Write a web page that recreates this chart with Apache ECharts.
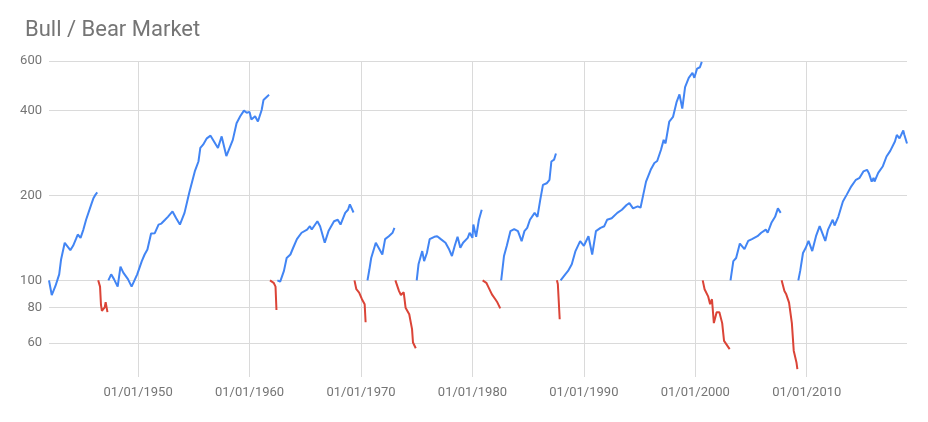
<!DOCTYPE html>
<html>
<head>
<meta charset="utf-8">
<title>Bull / Bear Market</title>
<script src="https://cdn.jsdelivr.net/npm/echarts@6/dist/echarts.min.js"></script>
<style>html,body{margin:0;padding:0;background:#fff}</style>
</head>
<body>
<div id="main" style="width:928px;height:422px"></div>
<script>
// each market phase restarts at 100 (monthly closes, month, value)
var bull1942 = [['1942-01',100],['1942-04',88.7],['1942-08',95.5],['1942-12',105],['1943-02',118.6],['1943-06',135.9],['1943-08',138],['1943-12',128],['1944-03',132.6],['1944-06',140],['1944-08',145.4],['1944-11',141.5],['1945-02',151.4],['1945-05',164],['1945-07',166],['1945-11',188],['1946-01',196],['1946-03',201],['1946-05',205]];
var bear1946 = [['1946-06',100],['1946-08',95],['1946-09',81.8],['1946-10',78],['1947-01',80.2],['1947-02',83.7],['1947-04',77.1]];
var bull1947 = [['1947-05',100],['1947-08',105],['1947-11',101],['1948-03',95],['1948-06',111.8],['1948-09',106.5],['1949-02',101],['1949-06',95],['1949-12',105],['1950-05',117],['1950-08',123.5],['1950-11',128.6],['1951-03',146.5],['1951-07',147],['1951-11',157.7],['1952-02',159],['1952-06',164],['1952-09',168],['1953-02',175.6],['1953-06',166],['1953-10',157.7],['1954-03',173.5],['1954-08',204],['1955-02',243.5],['1955-06',264],['1955-08',295],['1955-11',303],['1956-03',319],['1956-07',326],['1956-12',306],['1957-03',295],['1957-07',324],['1957-12',276],['1958-02',279],['1958-07',315],['1958-11',361],['1959-03',382],['1959-07',400],['1959-10',393],['1960-01',396],['1960-03',372],['1960-07',382],['1960-10',366],['1961-02',402],['1961-04',436],['1961-08',449],['1961-10',455]];
var bear1961 = [['1961-11',100],['1962-03',98],['1962-05',95],['1962-06',78.5]];
var bull1962 = [['1962-07',100],['1962-10',99],['1963-02',108],['1963-05',120],['1963-09',123.5],['1963-12',130.5],['1964-04',140],['1964-09',147.5],['1965-03',151.4],['1965-06',155.6],['1965-08',151.4],['1966-02',162],['1966-05',155.6],['1966-10',136],['1967-02',149.5],['1967-08',162],['1967-12',164],['1968-03',157.7],['1968-08',173.5],['1968-11',178],['1969-01',186],['1969-05',174]];
var bear1969 = [['1969-06',100],['1969-08',93],['1969-11',90.5],['1970-02',85.7],['1970-05',82.3],['1970-06',71]];
var bull1970 = [['1970-08',100],['1970-10',109],['1970-12',120],['1971-05',136],['1971-08',130.5],['1971-12',123.5],['1972-03',140],['1972-07',143.4],['1972-11',147.5],['1973-01',153.5]];
var bear1973 = [['1973-02',100],['1973-06',91.6],['1973-08',88.7],['1973-11',90.7],['1974-01',80],['1974-05',75.8],['1974-08',67.1],['1974-09',60.2],['1974-12',57.4]];
var bull1975 = [['1975-01',100],['1975-03',114],['1975-07',127],['1975-09',117],['1975-12',125],['1976-03',140],['1976-08',142.7],['1976-11',143.4],['1977-03',140],['1977-08',136],['1977-12',128.6],['1978-03',122],['1978-06',132.6],['1978-09',142.7],['1978-12',130.5],['1979-03',136],['1979-08',141.5],['1979-10',147.5],['1980-01',141.5],['1980-02',157.7],['1980-05',142.7],['1980-08',164],['1980-11',178]];
var bear1980 = [['1980-12',100],['1981-04',98],['1981-06',95],['1981-10',89.2],['1982-02',85.3],['1982-04',83.4],['1982-07',79.5]];
var bull1982 = [['1982-08',100],['1982-11',122],['1983-02',132.6],['1983-06',149.5],['1983-10',152],['1984-02',149.5],['1984-06',137.7],['1984-09',149.5],['1984-12',153.5],['1985-03',164],['1985-08',173.5],['1985-11',168],['1986-02',193],['1986-05',218],['1986-09',221],['1986-12',227.4],['1987-02',264],['1987-05',268],['1987-07',282]];
var bear1987 = [['1987-08',100],['1987-09',97],['1987-11',72.8]];
var bull1987 = [['1987-12',100],['1988-05',105],['1988-08',108],['1988-12',114],['1989-04',127],['1989-09',137.7],['1990-01',132.6],['1990-06',143.4],['1990-10',123.5],['1991-02',149.5],['1991-07',153.5],['1991-11',155.6],['1992-02',164],['1992-07',166],['1993-01',173.5],['1993-06',178],['1993-11',185],['1994-02',188],['1994-06',180],['1994-11',183],['1995-02',181],['1995-05',201],['1995-08',224],['1996-01',246.7],['1996-05',260.7],['1996-08',265],['1996-12',290],['1997-03',315],['1997-05',306],['1997-09',366],['1998-01',380],['1998-05',430],['1998-08',457],['1998-11',407],['1999-02',485],['1999-06',523],['1999-10',545],['1999-12',523],['2000-03',564],['2000-06',570],['2000-08',596]];
var bear2000 = [['2000-09',100],['2000-11',93],['2001-03',87.5],['2001-05',82.3],['2001-07',85.7],['2001-09',70.5],['2001-12',77.1],['2002-03',77.1],['2002-06',70.5],['2002-08',61],['2002-10',60.2],['2003-02',57]];
var bull2003 = [['2003-03',100],['2003-06',117],['2003-09',120],['2004-01',135],['2004-06',129],['2004-10',138],['2005-02',140],['2005-08',143.4],['2005-12',147.5],['2006-05',151.4],['2006-07',147.5],['2006-11',160],['2007-03',168],['2007-06',180],['2007-09',173.5]];
var bear2007 = [['2007-10',100],['2008-01',91.6],['2008-03',89.2],['2008-06',83.4],['2008-09',70.5],['2008-11',56.3],['2009-02',51],['2009-03',48.4]];
var bull2009 = [['2009-04',100],['2009-06',108],['2009-09',125],['2009-12',130.5],['2010-03',138],['2010-07',127],['2010-11',143.4],['2011-03',155.6],['2011-05',154],['2011-09',138],['2011-12',151.4],['2012-05',164],['2012-07',156.5],['2012-11',168],['2013-04',190.5],['2013-08',201],['2014-01',215.5],['2014-06',227.4],['2014-10',231],['2015-02',243.5],['2015-06',246.7],['2015-08',240],['2015-11',224],['2016-01',231],['2016-02',224],['2016-06',240.5],['2016-11',254],['2017-03',275],['2017-07',288],['2017-12',311],['2018-02',328],['2018-05',319],['2018-09',340],['2018-10',330],['2019-01',306]];

var yTicks = [60, 80, 100, 200, 400, 600];
var xTickYears = [1950, 1960, 1970, 1980, 1990, 2000, 2010];

var segments = [
    ['bull', bull1942], ['bear', bear1946], ['bull', bull1947], ['bear', bear1961],
    ['bull', bull1962], ['bear', bear1969], ['bull', bull1970], ['bear', bear1973],
    ['bull', bull1975], ['bear', bear1980], ['bull', bull1982], ['bear', bear1987],
    ['bull', bull1987], ['bear', bear2000], ['bull', bull2003], ['bear', bear2007],
    ['bull', bull2009]
];

function toTime(s) {
    var p = s.split('-');
    return new Date(+p[0], +p[1] - 1, 1).getTime();
}

var colors = { bull: '#4285f4', bear: '#db4437' };
var series = segments.map(function (seg) {
    return {
        name: seg[0] === 'bull' ? 'Bull' : 'Bear',
        type: 'line',
        showSymbol: false,
        silent: true,
        lineStyle: { width: 2, color: colors[seg[0]] },
        itemStyle: { color: colors[seg[0]] },
        data: seg[1].map(function (d) { return [toTime(d[0]), d[1]]; })
    };
});

// x is a plain value axis over timestamps so the custom yearly ticks work
var xTicks = xTickYears.map(function (y) { return new Date(y, 0, 1).getTime(); });
var labelStyle = { color: '#757575', fontSize: 13, fontFamily: 'Roboto' };

var option = {
    animation: false,
    backgroundColor: '#fff',
    title: {
        text: 'Bull / Bear Market',
        left: 20,
        top: 14,
        textStyle: { color: '#757575', fontSize: 22, fontWeight: 'normal', fontFamily: 'Roboto' }
    },
    grid: { left: 49, right: 21, top: 61, bottom: 45 },
    xAxis: {
        type: 'value',
        scale: true,
        min: toTime('1942-01'),
        max: toTime('2019-01'),
        axisLine: { show: false },
        axisTick: { show: false, customValues: xTicks },
        axisLabel: Object.assign({
            customValues: xTicks,
            margin: 9,
            formatter: function (v) { return '01/01/' + new Date(v).getFullYear(); }
        }, labelStyle),
        splitLine: { show: true, lineStyle: { color: '#dadada', width: 1 } }
    },
    yAxis: {
        type: 'log',
        logBase: 10,
        min: 45.4,
        max: 600,
        axisLine: { show: false },
        axisTick: { show: false, customValues: yTicks },
        axisLabel: Object.assign({ customValues: yTicks, margin: 7 }, labelStyle),
        splitLine: { show: true, lineStyle: { color: '#dadada', width: 1 } }
    },
    series: series
};

var myChart = echarts.init(document.getElementById('main'));
myChart.setOption(option);
</script>
</body>
</html>
